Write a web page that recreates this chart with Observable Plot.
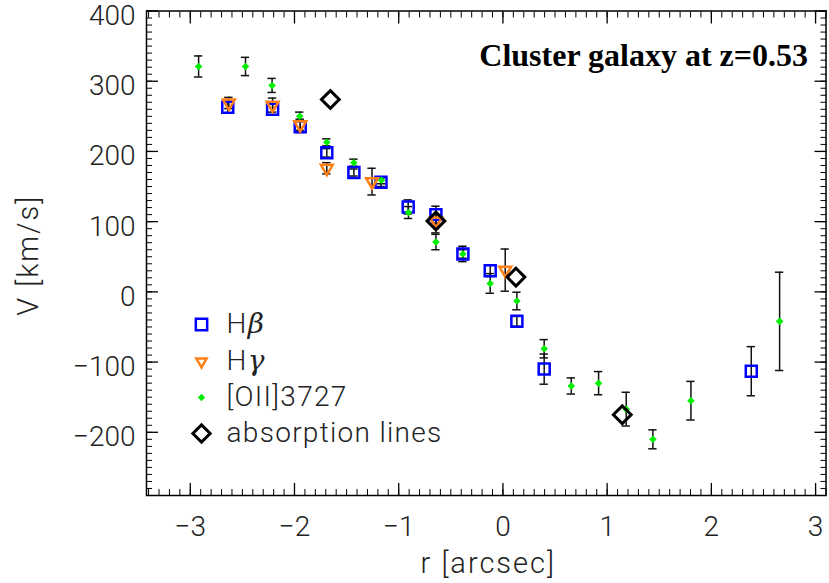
<!DOCTYPE html>
<html><head><meta charset="utf-8">
<script src="https://cdn.jsdelivr.net/npm/d3@7"></script>
<script src="https://cdn.jsdelivr.net/npm/@observablehq/plot@0.6"></script>
<style>
body{margin:0;background:#fff;}
#chart svg{display:block;}
</style></head><body><div id="chart"></div>
<script>
// [OII]3727
const oiiR = [-2.92, -2.47, -2.215, -1.95, -1.69, -1.43, -1.165, -0.906, -0.643, -0.384, -0.122, 0.134, 0.396, 0.656, 0.918, 1.183, 1.439, 1.804, 2.655];
const oiiV = [321, 321, 294, 250, 213, 184, 159, 113, 71, 54, 12, -13, -81, -134, -130, -167, -210, -155, -42];
const oiiE = [15, 13, 10, 6, 5, 5, 5, 8.5, 11, 6, 14, 12.5, 13, 11.5, 16.5, 24, 13.5, 27.5, 70];
// Hbeta
const hbR = [-2.64, -2.21, -1.945, -1.69, -1.43, -1.17, -0.909, -0.643, -0.384, -0.122, 0.134, 0.396, 2.383];
const hbV = [263, 260, 235, 198, 170, 156, 121, 110, 54, 30, -42, -110, -113];
const hbE = [8, 8, 8, 6, 5, 6, 10, 12, 11, 8, 7, 21.5, 35];
// Hgamma
const hgR = [-2.63, -2.21, -1.945, -1.69, -1.256, -0.643, 0.022];
const hgV = [269, 266, 238, 176, 157, 101, 31];
const hgE = [8, 10, 8, 8, 19, 17, 30];
// absorption lines
const absR = [-1.656, -0.643, 0.125, 1.145];
const absV = [274, 101, 21, -175];

const xMajor = [-3, -2, -1, 0, 1, 2, 3];
const yMajor = [-200, -100, 0, 100, 200, 300, 400];
const legendLabels = ["Hβ", "Hγ", "[OII]3727", "absorption lines"];
const titleText = "Cluster galaxy at z=0.53";
const xLabel = "r [arcsec]";
const yLabel = "V [km/s]";

const xDomain = [-3.42, 3.1];
const yDomain = [-290, 400];
const xMinor = d3.range(-34, 32).map(d => d / 10);
const yMinor = d3.range(-29, 41).map(d => d * 10);

const rows = (R, V, E) => R.map((r, i) => ({r, v: V[i], e: E ? E[i] : 0}));
const oii = rows(oiiR, oiiV, oiiE);
const hb = rows(hbR, hbV, hbE);
const hg = rows(hgR, hgV, hgE);
const abs = rows(absR, absV);

const tickFont = "Roboto, 'DejaVu Sans', sans-serif";
const tickWeight = 300;
const cap = 0.04;
const errMarks = (data) => [
  Plot.ruleX(data, {x: "r", y1: d => d.v - d.e, y2: d => d.v + d.e, stroke: "#111", strokeWidth: 1.5}),
  Plot.ruleY(data, {y: d => d.v + d.e, x1: d => d.r - cap, x2: d => d.r + cap, stroke: "#111", strokeWidth: 1.5}),
  Plot.ruleY(data, {y: d => d.v - d.e, x1: d => d.r - cap, x2: d => d.r + cap, stroke: "#111", strokeWidth: 1.5})
];

const legSym = [
  {symbol: "square", r: 6.4, stroke: "#0000ff", fill: "none", strokeWidth: 2.5, rotate: 0},
  {symbol: "triangle", r: 3.8, stroke: "#ff7f14", fill: "none", strokeWidth: 2.5, rotate: 180},
  {symbol: "diamond2", r: 3.3, stroke: "none", fill: "#00ee00", strokeWidth: 0, rotate: 0},
  {symbol: "diamond2", r: 7.8, stroke: "#000", fill: "none", strokeWidth: 3, rotate: 0}
];
const legendDy = [313.5, 350.5, 386.5, 422.5];

const chart = Plot.plot({
  width: 829,
  height: 583,
  marginLeft: 146,
  marginRight: 3.5,
  marginTop: 10.5,
  marginBottom: 88,
  style: {background: "#fff", color: "#222"},
  x: {domain: xDomain},
  y: {domain: yDomain},
  marks: [
    Plot.frame({stroke: "#000", strokeWidth: 1.5}),
    // inward ticks on all sides
    Plot.axisX(xMajor, {anchor: "bottom", tickSize: -12, fill: "none", label: null, stroke: "#000", strokeWidth: 1.3}),
    Plot.axisX(xMinor, {anchor: "bottom", tickSize: -6, fill: "none", label: null, stroke: "#000", strokeWidth: 1}),
    Plot.axisX(xMajor, {anchor: "top", tickSize: -12, fill: "none", label: null, stroke: "#000", strokeWidth: 1.3}),
    Plot.axisX(xMinor, {anchor: "top", tickSize: -6, fill: "none", label: null, stroke: "#000", strokeWidth: 1}),
    Plot.axisY(yMajor, {anchor: "left", tickSize: -12, fill: "none", label: null, stroke: "#000", strokeWidth: 1.3}),
    Plot.axisY(yMinor, {anchor: "left", tickSize: -6, fill: "none", label: null, stroke: "#000", strokeWidth: 1}),
    Plot.axisY(yMajor, {anchor: "right", tickSize: -12, fill: "none", label: null, stroke: "#000", strokeWidth: 1.3}),
    Plot.axisY(yMinor, {anchor: "right", tickSize: -6, fill: "none", label: null, stroke: "#000", strokeWidth: 1}),
    // tick labels
    Plot.axisX(xMajor, {anchor: "bottom", tickSize: 0, tickPadding: 21, label: null, fontSize: 28, fontFamily: tickFont, fontWeight: tickWeight, fill: "#222"}),
    Plot.axisY(yMajor, {anchor: "left", tickSize: 0, tickPadding: 11, dy: 5, label: null, fontSize: 28, fontFamily: tickFont, fontWeight: tickWeight, fill: "#222"}),
    // axis titles
    Plot.text([xLabel], {frameAnchor: "bottom", dx: 2, dy: 77, fontSize: 29, fontFamily: tickFont, fontWeight: tickWeight, fill: "#222"}),
    Plot.text([yLabel], {frameAnchor: "left", textAnchor: "middle", lineAnchor: "middle", dx: -118, dy: 2, rotate: -90, fontSize: 29, fontFamily: tickFont, fontWeight: tickWeight, fill: "#222"}),
    // error bars
    ...errMarks(oii),
    ...errMarks(hb),
    ...errMarks(hg),
    // symbols
    Plot.dot(hb, {x: "r", y: "v", symbol: "square", r: 6.2, stroke: "#0000ff", strokeWidth: 2.5, fill: "none"}),
    Plot.dot(hg, {x: "r", y: "v", symbol: "triangle", rotate: 180, r: 4.4, stroke: "#ff7f14", strokeWidth: 2.5, fill: "none"}),
    Plot.dot(oii, {x: "r", y: "v", symbol: "diamond2", r: 3.4, fill: "#00ee00", stroke: "none"}),
    Plot.dot(abs, {x: "r", y: "v", symbol: "diamond2", r: 8, stroke: "#000", strokeWidth: 3, fill: "none"}),
    // title
    Plot.text([titleText], {frameAnchor: "top-right", dx: -18, dy: 45, textAnchor: "end", lineAnchor: "middle", fontSize: 32, fontWeight: "bold", fontFamily: "'Liberation Serif', 'Times New Roman', serif", fill: "#000"}),
    // legend
    ...legendLabels.map((t, i) => Plot.dot([t], {frameAnchor: "top-left", dx: 55, dy: legendDy[i], ...legSym[i]})),
    ...legendLabels.map((t, i) => Plot.text([t], {frameAnchor: "top-left", dx: 80, dy: legendDy[i], textAnchor: "start", lineAnchor: "middle", fontSize: 28, fontFamily: tickFont, fontWeight: tickWeight, fill: "#222"}))
  ]
});
document.getElementById("chart").appendChild(chart);

// italicise the Greek letters in the legend, widen spacing like the original's stroke font
d3.select(chart).selectAll("text").each(function() {
  const t = this.textContent;
  const el = d3.select(this);
  if (legendLabels.includes(t)) el.style("letter-spacing", "1.3px");
  if (t === xLabel || t === yLabel) el.style("letter-spacing", "2px");
  if (t === "Hβ" || t === "Hγ") {
    el.text(null);
    el.append("tspan").text("H");
    el.append("tspan").attr("font-style", "italic").attr("font-family", "'DejaVu Serif', serif").attr("font-weight", 400).text(t.slice(1));
  }
});
</script></body></html>
